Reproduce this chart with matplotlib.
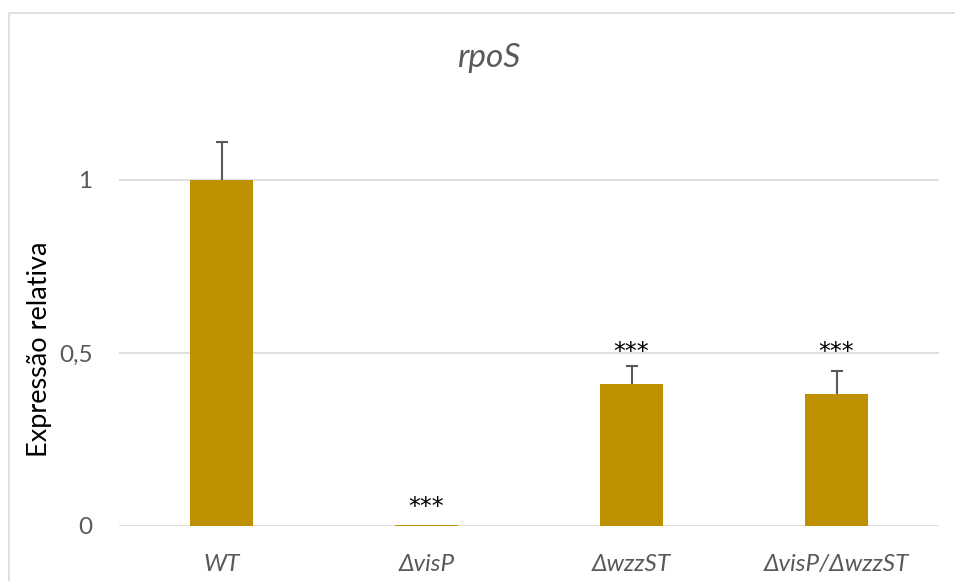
import matplotlib
matplotlib.use("Agg")
import matplotlib.pyplot as plt
from matplotlib.patches import Rectangle

# dados
strains = ["WT", "ΔvisP", "ΔwzzST", "ΔvisP/ΔwzzST"]
expression = [1.0, 0.002, 0.411, 0.382]
errors = [0.111, 0.0, 0.052, 0.066]
stars = ["", "***", "***", "***"]
star_y = [None, 0.07, 0.518, 0.518]
yticks = [0, 0.5, 1]
ytick_labels = ["0", "0,5", "1"]

plt.rcParams['font.family'] = ['Lato', 'DejaVu Sans']

gray = '#595959'
gold = '#BF9000'

fig = plt.figure(figsize=(9.55, 5.81), dpi=100)
fig.patch.set_facecolor('white')

# moldura externa do gráfico (estilo Excel)
fig.patches.append(Rectangle((9 / 955, -0.1), 1.2, (581 - 13) / 581 + 0.1,
                             transform=fig.transFigure, fill=False,
                             edgecolor='#D9D9D9', linewidth=1.2))

ax = fig.add_axes([119 / 955, 55 / 581, 820 / 955, 415.2 / 581])
x = list(range(len(strains)))
ax.bar(x, expression, width=0.31, color=gold, zorder=3)

# barras de erro só para cima
tops = [v + e for v, e in zip(expression, errors)]
for xi, v, t, e in zip(x, expression, tops, errors):
    if e > 0:
        ax.vlines(xi, v, t, color=gray, linewidth=1.5, zorder=4)
        ax.plot([xi], [t], marker='_', markersize=8, markeredgewidth=1.5,
                color=gray, zorder=4)

# asteriscos: deslocados para baixo porque o glifo fica no alto da linha
for xi, s, sy in zip(x, stars, star_y):
    if s:
        ax.annotate(s, (xi, sy), xytext=(0, -3.5), textcoords='offset points',
                    ha='center', va='center', fontsize=17, color='black',
                    family='DejaVu Sans')

ax.set_xlim(-0.5, 3.5)
ax.set_ylim(0, 1.2)
ax.set_yticks(yticks)
ax.set_yticklabels(ytick_labels)
ax.set_xticks(x)
ax.set_xticklabels(strains, style='italic')
ax.tick_params(axis='both', length=0, labelsize=17.5, labelcolor=gray)
ax.tick_params(axis='y', pad=19)
ax.tick_params(axis='x', pad=20)
ax.yaxis.grid(True, color='#D9D9D9', linewidth=1.2, zorder=0)
ax.set_axisbelow(True)
for sp in ax.spines.values():
    sp.set_visible(False)

fig.text(40 / 955, 1 - 349 / 581, "Expressão relativa", rotation=90,
         ha='center', va='center', fontsize=19.5, color='black')
fig.text(489 / 955, 1 - 58 / 581, "rpoS", style='italic', ha='center',
         va='center', fontsize=24, color=gray)

fig.savefig("out.png", dpi=100, facecolor='white')
